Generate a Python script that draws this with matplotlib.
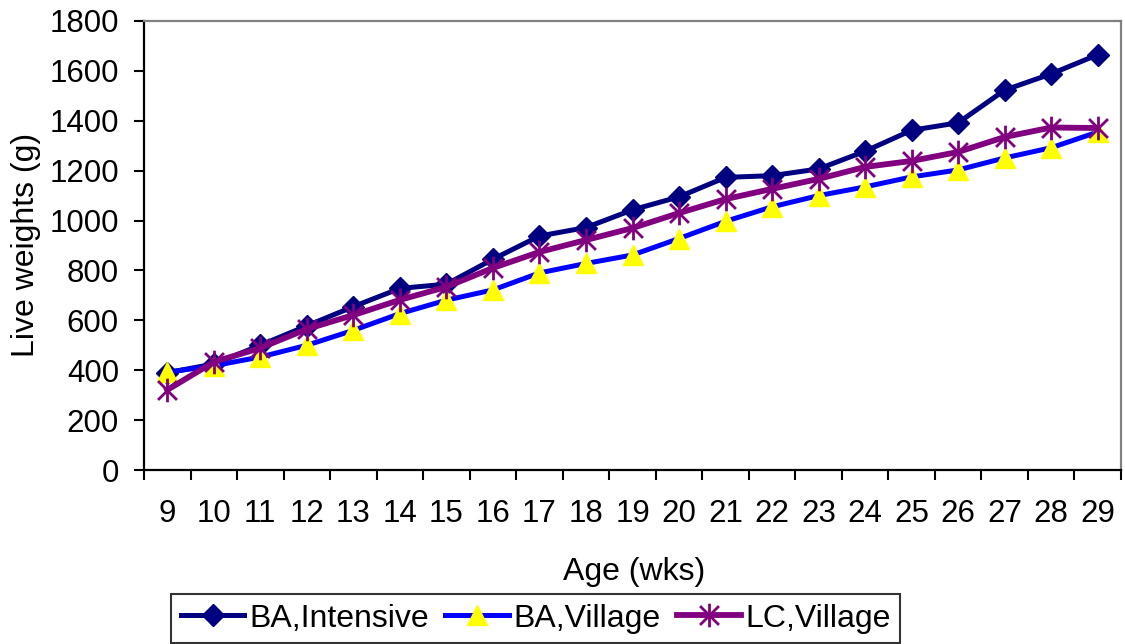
import matplotlib
matplotlib.use("Agg")
import matplotlib.pyplot as plt
from matplotlib.path import Path

plt.rcParams['font.family'] = ['Liberation Sans', 'DejaVu Sans']

ages = list(range(9, 30))
ba_intensive = [390, 425, 500, 578, 655, 728, 745, 845, 938, 972, 1043, 1095,
                1173, 1180, 1207, 1278, 1362, 1392, 1523, 1588, 1665]
ba_village = [392, 418, 453, 500, 560, 627, 681, 722, 790, 828, 862, 928,
              997, 1055, 1100, 1135, 1175, 1203, 1251, 1292, 1355]
lc_village = [321, 433, 489, 565, 621, 682, 734, 810, 874, 922, 970, 1030,
              1086, 1127, 1167, 1215, 1239, 1275, 1335, 1373, 1371]
series_names = ["BA,Intensive", "BA,Village", "LC,Village"]
y_ticks = list(range(0, 1801, 200))

# asterisk-style marker: vertical stroke plus an X
star = Path([(0, -1), (0, 1), (-0.8, -0.8), (0.8, 0.8), (-0.8, 0.8), (0.8, -0.8)],
            [Path.MOVETO, Path.LINETO, Path.MOVETO, Path.LINETO, Path.MOVETO, Path.LINETO])

W, H = 1125, 644
fig = plt.figure(figsize=(W / 100, H / 100), dpi=100)
left, right, top, bottom = 144, 1121, 21, 470
ax = fig.add_axes([left / W, 1 - bottom / H, (right - left) / W, (bottom - top) / H])

x = list(range(len(ages)))
ax.plot(x, ba_intensive, color='#000080', lw=3.6, marker='D', ms=11.5,
        mfc='#000080', mec='#000080', mew=1, label=series_names[0], zorder=3)
ax.plot(x, ba_village, color='#0000FF', lw=3.6, marker='^', ms=15,
        mfc='#FFFF00', mec='#FFFF00', mew=1, label=series_names[1], zorder=4)
ax.plot(x, lc_village, color='#800080', lw=4.2, marker=star, ms=17,
        mfc='none', mec='#800080', mew=2, label=series_names[2], zorder=5)

ax.set_xlim(-0.5, len(ages) - 0.5)
ax.set_ylim(0, 1800)

# category boundaries carry the tick marks, centres carry the labels
ax.set_xticks([i - 0.5 for i in range(len(ages) + 1)])
ax.set_xticklabels([])
ax.set_xticks(x, minor=True)
ax.set_xticklabels([str(a) for a in ages], minor=True, fontsize=22.5)
ax.tick_params(axis='x', which='major', direction='out', length=7, width=1.5, color='black')
ax.tick_params(axis='x', which='minor', length=0, pad=21)

ax.set_yticks(y_ticks)
ax.set_yticklabels([str(v) for v in y_ticks], fontsize=22.5)
ax.tick_params(axis='y', direction='out', length=7, width=1.5, pad=11)

for side in ('left', 'bottom'):
    ax.spines[side].set_color('black')
    ax.spines[side].set_linewidth(1.6)
for side in ('top', 'right'):
    ax.spines[side].set_color('#808080')
    ax.spines[side].set_linewidth(1.6)

fig.text(26 / W, 1 - 245 / H, "Live weights (g)", rotation=90, ha='center', va='center', fontsize=23)
fig.text(634 / W, 1 - 572 / H, "Age (wks)", ha='center', va='center', fontsize=23)

leg = fig.legend(loc='upper left', bbox_to_anchor=(171 / W, 1 - 594 / H), ncol=3,
                 fontsize=23, frameon=True, fancybox=False, handlelength=2.0,
                 handletextpad=0.15, columnspacing=0.5, borderpad=0.3,
                 borderaxespad=0)
leg.get_frame().set_edgecolor('black')
leg.get_frame().set_linewidth(1.5)

fig.savefig("out.png", dpi=100)
